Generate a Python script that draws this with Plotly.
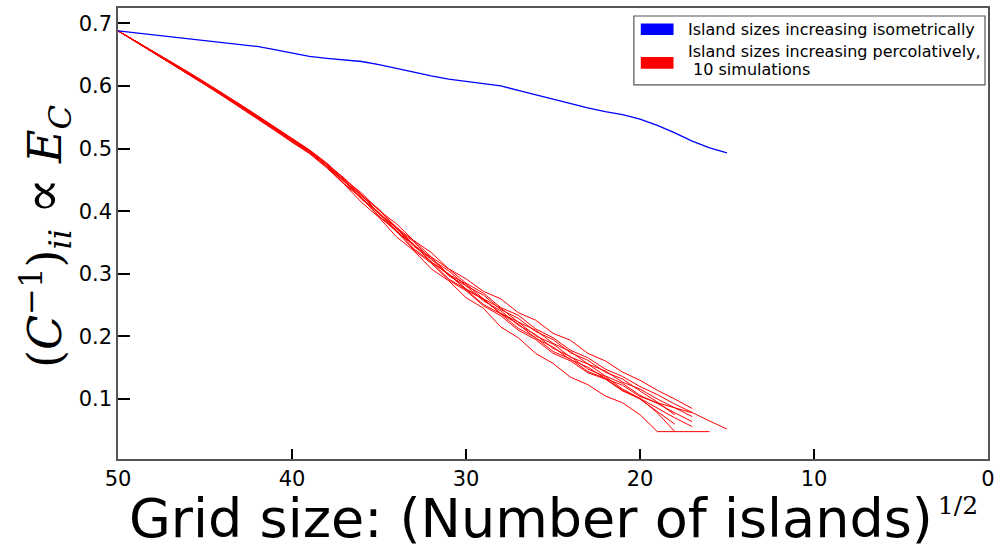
import plotly.graph_objects as go

# Grid size axis values: sqrt(number of islands)
iso_grid = [50, 49, 48, 47, 46, 45, 44, 43, 42, 41, 40, 39, 38, 37, 36, 35, 34, 33,
            32, 31, 30, 29, 28, 27, 26, 25, 24, 23, 22, 21, 20, 19, 18, 17, 16, 15]
iso_energy = [0.688, 0.685, 0.682, 0.679, 0.675, 0.672, 0.670, 0.667, 0.663, 0.658,
              0.653, 0.647, 0.644, 0.642, 0.639, 0.634, 0.628, 0.621, 0.616, 0.611,
              0.607, 0.604, 0.600, 0.593, 0.586, 0.578, 0.571, 0.565, 0.559, 0.554,
              0.547, 0.537, 0.525, 0.512, 0.501, 0.493]

# Ten percolative simulations (each stops at its own final grid size)
perc_sim_1 = [0.688, 0.671, 0.655, 0.639, 0.622, 0.605, 0.588, 0.570, 0.552, 0.534,
              0.515, 0.497, 0.475, 0.453, 0.426, 0.403, 0.374, 0.353, 0.327, 0.308,
              0.285, 0.269, 0.246, 0.234, 0.212, 0.198, 0.178, 0.166, 0.148, 0.136,
              0.120, 0.107, 0.092, 0.078, 0.065, 0.052]
perc_sim_2 = [0.688, 0.672, 0.656, 0.639, 0.623, 0.606, 0.589, 0.571, 0.553, 0.535,
              0.516, 0.498, 0.477, 0.451, 0.429, 0.401, 0.380, 0.353, 0.334, 0.308,
              0.292, 0.272, 0.260, 0.238, 0.226, 0.205, 0.194, 0.173, 0.161, 0.143,
              0.130, 0.114, 0.100, 0.085]
perc_sim_3 = [0.688, 0.672, 0.655, 0.638, 0.621, 0.603, 0.586, 0.568, 0.550, 0.532,
              0.513, 0.495, 0.471, 0.448, 0.419, 0.397, 0.367, 0.346, 0.319, 0.299,
              0.275, 0.259, 0.237, 0.223, 0.201, 0.188, 0.167, 0.156, 0.137, 0.125,
              0.106, 0.093, 0.078, 0.064]
perc_sim_4 = [0.688, 0.671, 0.654, 0.637, 0.620, 0.603, 0.585, 0.567, 0.549, 0.530,
              0.511, 0.493, 0.471, 0.443, 0.421, 0.391, 0.368, 0.338, 0.317, 0.290,
              0.273, 0.249, 0.233, 0.210, 0.195, 0.173, 0.161, 0.142, 0.132, 0.113,
              0.101, 0.085, 0.070, 0.056]
perc_sim_5 = [0.688, 0.672, 0.655, 0.638, 0.621, 0.604, 0.587, 0.569, 0.551, 0.533,
              0.514, 0.496, 0.474, 0.447, 0.425, 0.395, 0.373, 0.344, 0.324, 0.297,
              0.281, 0.257, 0.241, 0.218, 0.203, 0.181, 0.168, 0.148, 0.136, 0.116,
              0.101, 0.078, 0.048, 0.048, 0.048]
perc_sim_6 = [0.688, 0.671, 0.654, 0.637, 0.620, 0.602, 0.584, 0.566, 0.548, 0.529,
              0.510, 0.492, 0.469, 0.443, 0.414, 0.390, 0.359, 0.337, 0.308, 0.289,
              0.262, 0.245, 0.215, 0.198, 0.173, 0.157, 0.135, 0.123, 0.105, 0.094,
              0.075, 0.048, 0.048]
perc_sim_7 = [0.688, 0.672, 0.656, 0.639, 0.622, 0.605, 0.588, 0.570, 0.552, 0.534,
              0.515, 0.497, 0.474, 0.452, 0.424, 0.402, 0.372, 0.351, 0.323, 0.305,
              0.281, 0.266, 0.243, 0.229, 0.208, 0.195, 0.174, 0.162, 0.143, 0.132,
              0.113, 0.095, 0.075]
perc_sim_8 = [0.688, 0.671, 0.655, 0.638, 0.621, 0.604, 0.587, 0.569, 0.551, 0.533,
              0.514, 0.496, 0.475, 0.448, 0.426, 0.396, 0.375, 0.346, 0.326, 0.299,
              0.284, 0.260, 0.245, 0.223, 0.210, 0.189, 0.176, 0.156, 0.145, 0.127,
              0.116, 0.100, 0.086, 0.072]
perc_sim_9 = [0.688, 0.672, 0.655, 0.638, 0.621, 0.604, 0.586, 0.568, 0.550, 0.532,
              0.513, 0.495, 0.471, 0.450, 0.420, 0.398, 0.368, 0.347, 0.319, 0.300,
              0.276, 0.260, 0.236, 0.220, 0.197, 0.183, 0.163, 0.151, 0.133, 0.122,
              0.104, 0.094, 0.086, 0.078]
perc_sim_10 = [0.688, 0.671, 0.654, 0.637, 0.620, 0.603, 0.585, 0.567, 0.549, 0.531,
               0.512, 0.494, 0.472, 0.444, 0.422, 0.392, 0.370, 0.340, 0.319, 0.292,
               0.275, 0.251, 0.236, 0.213, 0.198, 0.176, 0.164, 0.144, 0.133, 0.114,
               0.100, 0.080, 0.060]
perc_sims = [perc_sim_1, perc_sim_2, perc_sim_3, perc_sim_4, perc_sim_5,
             perc_sim_6, perc_sim_7, perc_sim_8, perc_sim_9, perc_sim_10]

x_ticks = [50, 40, 30, 20, 10, 0]
y_ticks = [0.1, 0.2, 0.3, 0.4, 0.5, 0.6, 0.7]

legend_lines = ["Island sizes increasing isometrically",
                "Island sizes increasing percolatively,",
                "&nbsp;10 simulations"]
BLUE = "#0000ff"
RED = "#ff0000"

# Plot-area geometry in pixels
W, H = 1001, 550
PL, PR, PT, PB = 118, 995, 7, 459


def paper(px, py):
    return (px - PL) / (PR - PL), (PB - py) / (PB - PT)


fig = go.Figure()

for sim in perc_sims:
    fig.add_trace(go.Scatter(
        x=iso_grid[:len(sim)], y=sim, mode="lines",
        line=dict(color=RED, width=1), showlegend=False, hoverinfo="skip"))

fig.add_trace(go.Scatter(
    x=iso_grid, y=iso_energy, mode="lines",
    line=dict(color=BLUE, width=1.3), showlegend=False))

axis_font = dict(family="DejaVu Sans", size=21, color="black")

fig.update_layout(
    width=W, height=H,
    margin=dict(l=PL, r=W - PR, t=PT, b=H - PB),
    paper_bgcolor="white", plot_bgcolor="white",
    showlegend=False,
    xaxis=dict(range=[50, 0], tickvals=x_ticks, ticktext=[str(v) for v in x_ticks],
               ticks="inside", ticklen=10, tickwidth=2, tickcolor="black",
               showline=True, mirror=True, linecolor="#555555", linewidth=1.5,
               showgrid=False, zeroline=False, tickfont=axis_font),
    yaxis=dict(range=[0.0043, 0.7244], tickvals=y_ticks,
               ticktext=["%.1f" % v for v in y_ticks],
               ticks="inside", ticklen=12, tickwidth=2, tickcolor="black",
               showline=True, mirror=True, linecolor="#555555", linewidth=1.5,
               showgrid=False, zeroline=False, tickfont=axis_font),
)

# Axis titles
ax, ay = paper(557, 519)
fig.add_annotation(
    x=ax, y=ay, xref="paper", yref="paper", showarrow=False,
    xanchor="center", yanchor="middle",
    text="Grid size: (Number of islands)<sup><span style=\"font-family:'DejaVu Serif';font-size:25px\">&#8201;1/2</span></sup>",
    font=dict(family="DejaVu Sans", size=54, color="black"))

tx, ty = paper(45, 236)
fig.add_annotation(
    x=tx, y=ty, xref="paper", yref="paper", showarrow=False, textangle=-90,
    xanchor="center", yanchor="middle",
    text="(<i>C</i><sup>−1</sup>)<sub><i>ii</i></sub> <span style=\"font-size:54px\">∝</span> <i>E</i><sub><i>C</i></sub>",
    font=dict(family="DejaVu Serif", size=46, color="black"))

# Legend box with colour patches
bx0, by0 = paper(638, 15)
bx1, by1 = paper(992, 84)
fig.add_shape(type="rect", xref="paper", yref="paper", x0=bx0, y0=by1, x1=bx1, y1=by0,
              line=dict(color="#555555", width=1.2), fillcolor="white")
for (py0, py1), color in [((22.5, 34), BLUE), ((56, 68), RED)]:
    x0, y0 = paper(645, py1)
    x1, y1 = paper(678, py0)
    fig.add_shape(type="rect", xref="paper", yref="paper", x0=x0, y0=y0, x1=x1, y1=y1,
                  line=dict(width=0), fillcolor=color)
for (px, py, label) in [(691, 28.5, legend_lines[0]), (691, 51, legend_lines[1]),
                        (691, 68.5, legend_lines[2])]:
    lx, ly = paper(px, py)
    fig.add_annotation(x=lx, y=ly, xref="paper", yref="paper", showarrow=False,
                       xanchor="left", yanchor="middle", align="left", text=label,
                       font=dict(family="DejaVu Sans", size=16, color="black"))

fig.write_html("out.html")
